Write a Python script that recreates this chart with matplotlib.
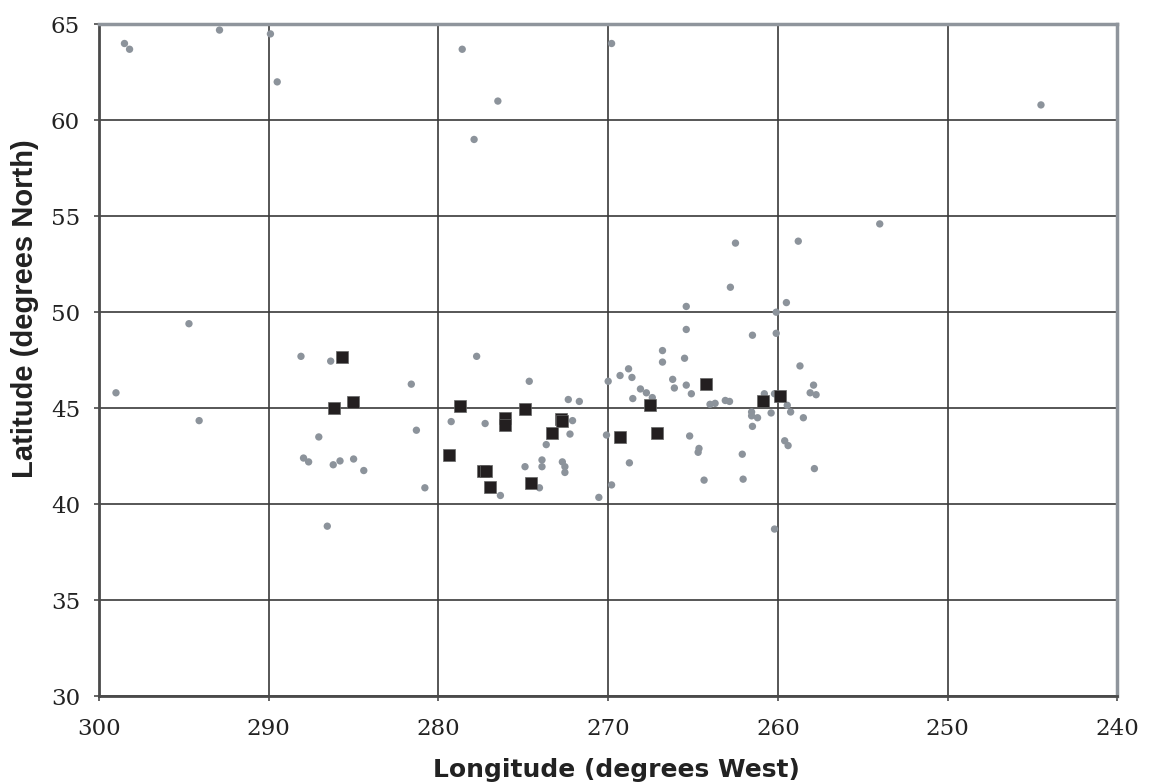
import matplotlib
matplotlib.use('Agg')
import matplotlib.pyplot as plt

# gray dots: all sites
lon_sites = [298.5, 298.2, 292.9, 289.9, 289.5, 278.6, 277.9, 276.5, 269.8, 244.5,
             254.0, 262.5, 258.8, 262.8, 265.4, 259.5, 260.1, 265.4, 261.5, 260.1,
             266.8, 266.8, 265.5, 258.7, 268.8, 269.3, 268.6, 270.0, 266.2, 266.1,
             265.4, 265.1, 268.1, 267.75, 267.4, 268.55, 257.9, 258.1, 257.75, 260.8,
             260.2, 264.0, 263.7, 263.1, 262.85, 259.45, 259.25, 261.55, 261.55, 261.2,
             260.4, 258.5, 261.5, 270.1, 265.2, 264.65, 264.7, 268.75, 262.1, 259.6,
             259.4, 257.85, 269.8, 264.35, 262.05, 270.55, 260.2, 274.65, 272.35, 271.7,
             272.1, 272.25, 273.65, 273.9, 273.9, 274.9, 272.7, 272.55, 272.55, 274.05,
             276.35, 277.75, 279.25, 277.25, 294.7, 299.0, 294.1, 288.1, 286.35, 281.6,
             281.3, 287.05, 287.95, 287.65, 286.2, 285.8, 285.0, 284.4, 280.8, 286.55]
lat_sites = [64.0, 63.7, 64.7, 64.5, 62.0, 63.7, 59.0, 61.0, 64.0, 60.8,
             54.6, 53.6, 53.7, 51.3, 50.3, 50.5, 50.0, 49.1, 48.8, 48.9,
             48.0, 47.4, 47.6, 47.2, 47.05, 46.7, 46.6, 46.4, 46.5, 46.05,
             46.2, 45.75, 46.0, 45.8, 45.55, 45.5, 46.2, 45.8, 45.7, 45.75,
             45.75, 45.2, 45.25, 45.4, 45.35, 45.15, 44.8, 44.8, 44.6, 44.5,
             44.75, 44.5, 44.05, 43.6, 43.55, 42.9, 42.7, 42.15, 42.6, 43.3,
             43.05, 41.85, 41.0, 41.25, 41.3, 40.35, 38.7, 46.4, 45.45, 45.35,
             44.35, 43.65, 43.1, 42.3, 41.95, 41.95, 42.2, 41.95, 41.65, 40.85,
             40.45, 47.7, 44.3, 44.2, 49.4, 45.8, 44.35, 47.7, 47.45, 46.25,
             43.85, 43.5, 42.4, 42.2, 42.05, 42.25, 42.35, 41.75, 40.85, 38.85]

# black squares: selected sites
lon_sel = [285.7, 286.15, 285.05, 278.75, 279.35, 276.1, 276.1, 274.9, 272.8, 272.7, 273.3,
           277.4, 277.2, 276.95, 274.55, 267.55, 269.3, 267.15, 264.25, 260.85, 259.85]
lat_sel = [47.65, 45.0, 45.3, 45.1, 42.55, 44.5, 44.1, 44.95, 44.45, 44.35, 43.7,
           41.75, 41.7, 40.9, 41.1, 45.15, 43.5, 43.7, 46.25, 45.35, 45.65]

x_ticks = [300, 290, 280, 270, 260, 250, 240]
y_ticks = [30, 35, 40, 45, 50, 55, 60, 65]

fig = plt.figure(figsize=(11.58, 7.84), dpi=100)
ax = fig.add_axes([0.0855, 0.1122, 0.8794, 0.8568])

ax.scatter(lon_sites, lat_sites, s=28, color='#8c939b', edgecolors='none', zorder=3)
ax.scatter(lon_sel, lat_sel, s=66, marker='s', color='#231f20',
           edgecolors='#666666', linewidths=0.5, zorder=4)

ax.set_xlim(300, 240)
ax.set_ylim(30, 65)
ax.set_xticks(x_ticks)
ax.set_yticks(y_ticks)
ax.grid(True, color='#3a3a3a', linewidth=1.2, zorder=1)
ax.set_axisbelow(True)

for side in ['left', 'bottom']:
    ax.spines[side].set_color('#4a4a4a')
    ax.spines[side].set_linewidth(2)
for side in ['top', 'right']:
    ax.spines[side].set_color('#8f959c')
    ax.spines[side].set_linewidth(2.5)

ax.tick_params(direction='out', length=3.6, width=1.2, color='#4a4a4a')
ax.tick_params(axis='x', pad=12)
ax.tick_params(axis='y', pad=10)
for lab in ax.get_xticklabels() + ax.get_yticklabels():
    lab.set_fontfamily('DejaVu Serif')
    lab.set_fontsize(16.5)
    lab.set_color('#222222')

# axis titles placed where the reference has them
fig.text(616.5 / 1158, 1 - 777 / 784, 'Longitude (degrees West)', fontsize=18,
         fontweight='bold', family='DejaVu Sans', color='#222222',
         ha='center', va='baseline')
fig.text(25.5 / 1158, 1 - 309 / 784, 'Latitude (degrees North)', fontsize=21,
         fontweight='bold', family='Liberation Sans', color='#222222',
         rotation=90, ha='center', va='center')

fig.savefig('out.png', dpi=100)
